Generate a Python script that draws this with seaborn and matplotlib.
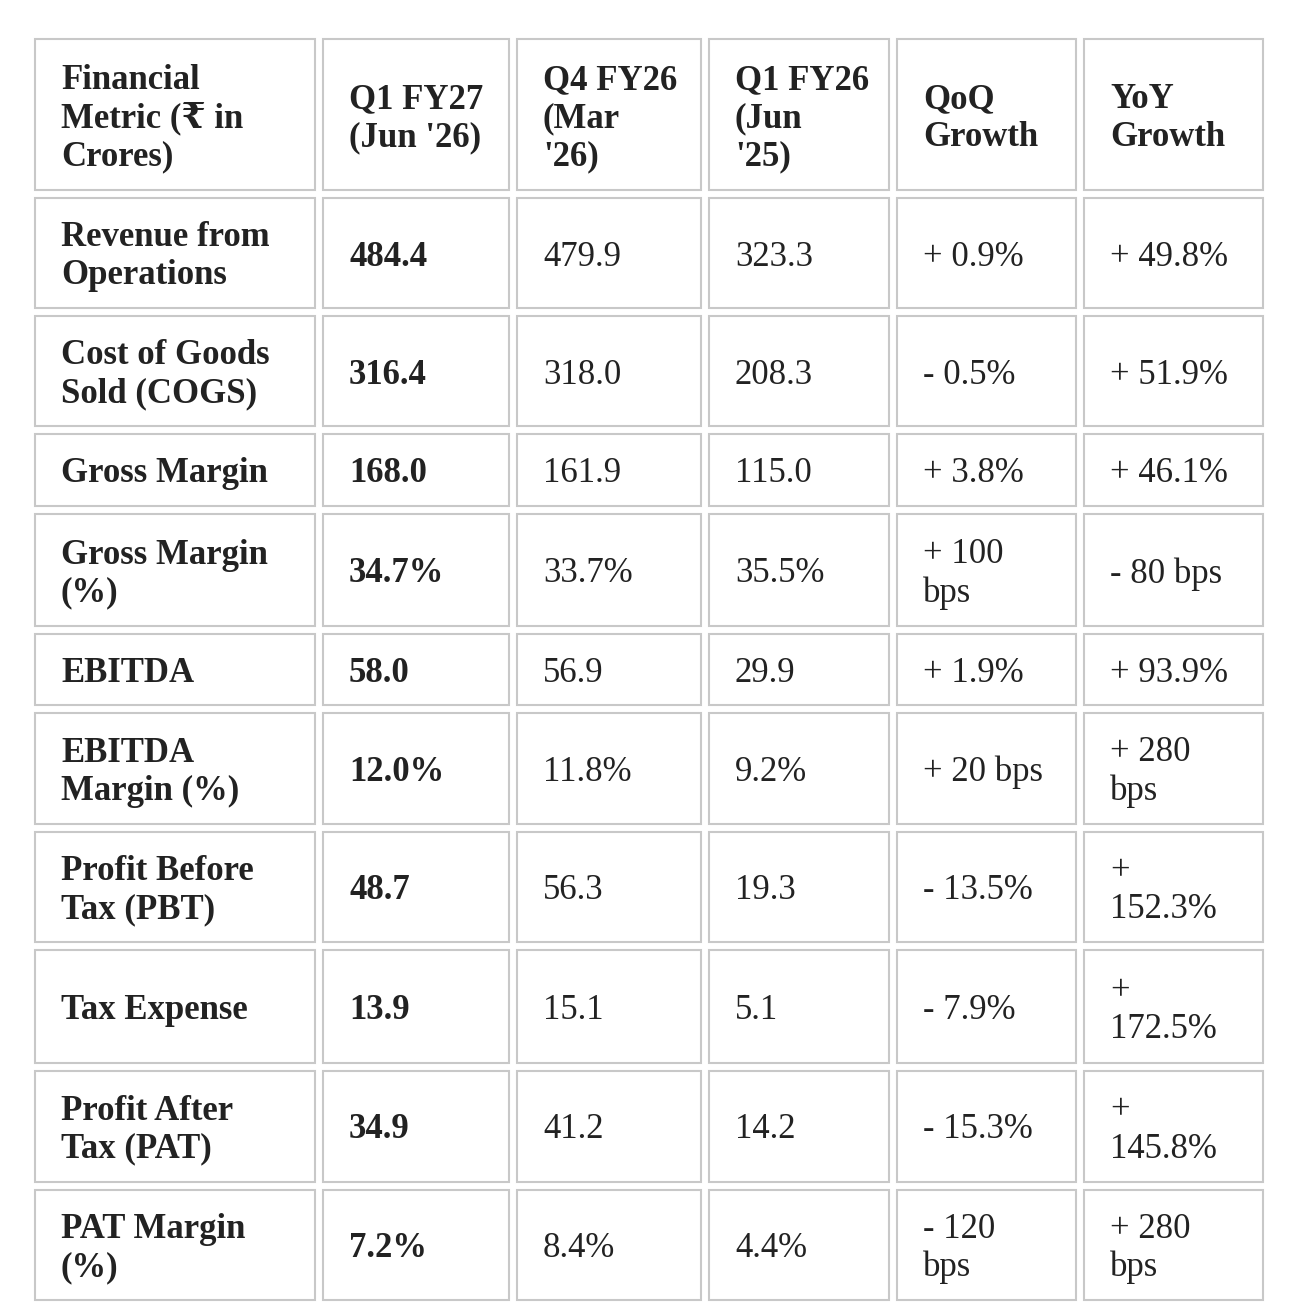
import matplotlib
matplotlib.use("Agg")
import matplotlib.pyplot as plt
from matplotlib.patches import Rectangle
import seaborn as sns

# ---------------- data ----------------
headers = ["Financial\nMetric (₹ in\nCrores)", "Q1 FY27\n(Jun '26)", "Q4 FY26\n(Mar\n'26)",
           "Q1 FY26\n(Jun\n'25)", "QoQ\nGrowth", "YoY\nGrowth"]
metrics = ["Revenue from\nOperations", "Cost of Goods\nSold (COGS)", "Gross Margin",
           "Gross Margin\n(%)", "EBITDA", "EBITDA\nMargin (%)", "Profit Before\nTax (PBT)",
           "Tax Expense", "Profit After\nTax (PAT)", "PAT Margin\n(%)"]
is_percent = [False, False, False, True, False, True, False, False, False, True]
q1_fy27 = [484.4, 316.4, 168.0, 34.7, 58.0, 12.0, 48.7, 13.9, 34.9, 7.2]
q4_fy26 = [479.9, 318.0, 161.9, 33.7, 56.9, 11.8, 56.3, 15.1, 41.2, 8.4]
q1_fy26 = [323.3, 208.3, 115.0, 35.5, 29.9, 9.2, 19.3, 5.1, 14.2, 4.4]
qoq_growth = ["+ 0.9%", "- 0.5%", "+ 3.8%", "+ 100\nbps", "+ 1.9%", "+ 20 bps",
              "- 13.5%", "- 7.9%", "- 15.3%", "- 120\nbps"]
yoy_growth = ["+ 49.8%", "+ 51.9%", "+ 46.1%", "- 80 bps", "+ 93.9%", "+ 280\nbps",
              "+\n152.3%", "+\n172.5%", "+\n145.8%", "+ 280\nbps"]

# ---------------- layout ----------------
col_w = [282, 188, 186, 182, 181, 181]
row_h = [153, 112, 112, 74, 114, 73, 112.5, 112.5, 114.5, 113, 112]
gap = 6
x0, y0 = 34, 38
pad = 27
text_dy = 4
border_color = "#c8c8c8"
text_color = "#222222"
fsize = 25
lspace = 1.2

sns.set_theme(style="white")
plt.rcParams['font.family'] = ['Liberation Serif', 'DejaVu Serif', 'DejaVu Sans']

fig = plt.figure(figsize=(12.9, 13.1), dpi=100)
fig.patch.set_facecolor("white")
ax = fig.add_axes([0, 0, 1, 1])
ax.set_xlim(0, 1290)
ax.set_ylim(1310, 0)
ax.axis("off")


def fmt(v, pct):
    return f"{v:.1f}%" if pct else f"{v:.1f}"


rows = [headers]
for i in range(len(metrics)):
    rows.append([metrics[i], fmt(q1_fy27[i], is_percent[i]), fmt(q4_fy26[i], is_percent[i]),
                 fmt(q1_fy26[i], is_percent[i]), qoq_growth[i], yoy_growth[i]])

y = y0
for r, row in enumerate(rows):
    h = row_h[r]
    x = x0
    for c, txt in enumerate(row):
        w = col_w[c]
        ax.add_patch(Rectangle((x + 1, y + 1), w - 2, h - 2, facecolor="white",
                               edgecolor=border_color, linewidth=1.5))
        bold = (r == 0) or (c <= 1)
        ax.text(x + pad, y + h / 2 + text_dy, txt, ha="left", va="center", fontsize=fsize,
                fontweight="bold" if bold else "normal", color=text_color,
                linespacing=lspace)
        x += w + gap
    y += h + gap

fig.savefig("out.png", dpi=100, facecolor="white")
